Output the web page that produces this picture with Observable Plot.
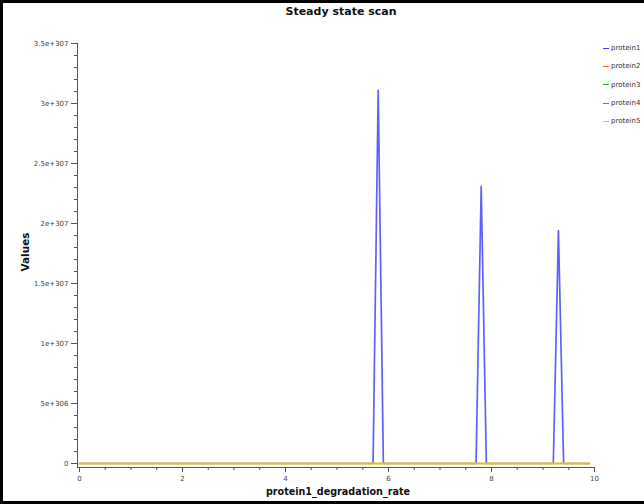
<!DOCTYPE html>
<html>
<head>
<meta charset="utf-8">
<script src="https://cdn.jsdelivr.net/npm/d3@7"></script>
<script src="https://cdn.jsdelivr.net/npm/@observablehq/plot@0.6"></script>
<style>
  html, body { margin: 0; padding: 0; background: #fff; }
  #wrap { position: relative; width: 644px; height: 504px; overflow: hidden; font-family: "DejaVu Sans", sans-serif; background:#fff; }
  #frame { position: absolute; left: 0px; top: 0px; width: 700px; height: 498px; border: 3px solid #000; box-sizing: content-box; pointer-events: none; }
  #title { position: absolute; left: 0; width: 682px; top: 5px; text-align: center; font-weight: bold; font-size: 11px; color: #111; }
  #xlabel { position: absolute; left: 79px; width: 518px; top: 486px; text-align: center; font-weight: bold; font-size: 9.6px; color: #111; }
  #ylabel { position: absolute; left: 25px; top: 252px; transform: translate(-50%, -50%) rotate(-90deg); font-weight: bold; font-size: 10.5px; color: #111; white-space: nowrap; }
  #legend { position: absolute; left: 603px; top: 39px; font-size: 7px; color: #333; }
  .row { height: 18.3px; display: flex; align-items: center; white-space: nowrap; }
  .sw { display: inline-block; width: 6px; height: 1px; margin-right: 2px; }
  svg { position: absolute; left: 0; top: 0; }
</style>
</head>
<body>
<div id="wrap">
  <div id="chart"></div>
  <div id="title">Steady state scan</div>
  <div id="xlabel">protein1_degradation_rate</div>
  <div id="ylabel">Values</div>
  <div id="legend"></div>
  <div id="frame"></div>
</div>
<script>
// ---- data ----
const seriesNames = ["protein1", "protein2", "protein3", "protein4", "protein5"];
const seriesColors = ["#4444ff", "#ff5522", "#22bb22", "#cc44cc", "#f0c000"];
const xProtein1 = [0, 5.7, 5.8, 5.9, 7.7, 7.8, 7.9, 9.2, 9.3, 9.4, 9.9];
const protein1 = [0, 0, 3.11e307, 0, 0, 2.31e307, 0, 0, 1.94e307, 0, 0];
const xFlat = [0, 9.9];
const protein2 = [0, 0];
const protein3 = [0, 0];
const protein4 = [0, 0];
const protein5 = [0, 0];
const xTicks = [0, 2, 4, 6, 8, 10];
const xTickLabels = ["0", "2", "4", "6", "8", "10"];
const xMinorTicks = [0.5, 1, 1.5, 2.5, 3, 3.5, 4.5, 5, 5.5, 6.5, 7, 7.5, 8.5, 9, 9.5];
const yTicks = [0, 5e306, 1e307, 1.5e307, 2e307, 2.5e307, 3e307, 3.5e307];
const yTickLabels = ["0", "5e+306", "1e+307", "1.5e+307", "2e+307", "2.5e+307", "3e+307", "3.5e+307"];

// ---- build table ----
const rows = [];
xProtein1.forEach((x, i) => rows.push({series: "protein1", x, y: protein1[i]}));
[["protein2", protein2], ["protein3", protein3], ["protein4", protein4], ["protein5", protein5]]
  .forEach(([name, vals]) => xFlat.forEach((x, i) => rows.push({series: name, x, y: vals[i]})));

const yMinor = d3.range(0, 36).map(i => i * 1e306);

const widths = [1.7, 1, 1, 1, 2];
const lines = seriesNames.map((name, k) =>
  Plot.line(rows.filter(r => r.series === name), {x: "x", y: "y", stroke: seriesColors[k], strokeWidth: widths[k], strokeOpacity: k === 0 ? 0.85 : 1})
);

const chart = Plot.plot({
  width: 644,
  height: 504,
  marginLeft: 79,
  marginRight: 50,
  marginTop: 43,
  marginBottom: 41,
  style: {fontFamily: "DejaVu Sans, sans-serif", background: "transparent"},
  x: {domain: [0, 10], label: null},
  y: {domain: [0, 3.5e307], label: null},
  marks: [
    Plot.ruleX([0], {dx: -2, stroke: "#555", insetBottom: -4}),
    Plot.ruleY([0], {dy: 4, stroke: "#555", insetLeft: -2, insetRight: -1}),
    Plot.axisY({ticks: yMinor, tickSize: 3, tickFormat: () => "", dx: -2, stroke: "#555", label: null}),
    Plot.axisY({ticks: yTicks, tickSize: 6, tickPadding: 3, dx: -2, stroke: "#555", fill: "#444", fontSize: 7,
                tickFormat: d => yTickLabels[yTicks.indexOf(d)], label: null}),
    Plot.axisX({ticks: xMinorTicks, tickSize: 3, tickFormat: () => "", dy: 4, stroke: "#555", label: null}),
    Plot.axisX({ticks: xTicks, tickSize: 5, tickPadding: 4, dy: 4, stroke: "#555", fill: "#444", fontSize: 7,
                tickFormat: d => xTickLabels[xTicks.indexOf(d)], label: null}),
    ...lines
  ]
});
document.getElementById("chart").appendChild(chart);

// legend
const lg = document.getElementById("legend");
seriesNames.forEach((name, k) => {
  const row = document.createElement("div");
  row.className = "row";
  const sw = document.createElement("span");
  sw.className = "sw";
  sw.style.background = seriesColors[k];
  row.appendChild(sw);
  row.appendChild(document.createTextNode(name));
  lg.appendChild(row);
});
</script>
</body>
</html>
